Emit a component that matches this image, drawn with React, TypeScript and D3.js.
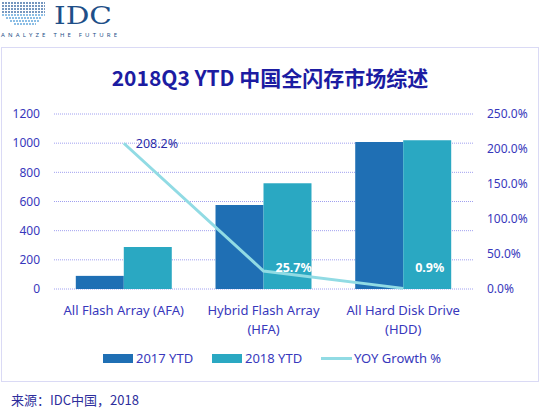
import { scaleBand, scaleLinear, line, format } from "d3";

// 数据
const categories = ["AFA", "HFA", "HDD"];
const categoryLines = [
  ["All Flash Array (AFA)"],
  ["Hybrid Flash Array", "(HFA)"],
  ["All Hard Disk Drive", "(HDD)"],
];
const series = ["2017 YTD", "2018 YTD"];
const values2017 = [90, 576, 1008];
const values2018 = [288, 725, 1020];
const yoyGrowth = [2.082, 0.257, 0.009];
const leftTicks = [0, 200, 400, 600, 800, 1000, 1200];
const rightTicks = [0, 0.5, 1, 1.5, 2, 2.5];

const W = 541,
  H = 411;
const plotLeft = 54,
  plotRight = 473,
  plotTop = 114,
  plotBottom = 289;

const c2017 = "#1f6fb4";
const c2018 = "#2aa8c2";
const cLine = "#91dbe4";
const cText = "#3838bc";
const cGrid = "#a0a0f0";
const font = "'Noto Sans', 'Noto Sans CJK SC', sans-serif";

const App = () => {
  const x0 = scaleBand(categories, [plotLeft, plotRight])
    .paddingInner(0.313)
    .paddingOuter(0.156);
  const x1 = scaleBand(series, [0, x0.bandwidth()]);
  const yL = scaleLinear([0, 1200], [plotBottom, plotTop]);
  const yR = scaleLinear([0, 2.5], [plotBottom, plotTop]);
  const pct = format(".1%");

  const cx = (i: number) => (x0(categories[i]) as number) + x0.bandwidth() / 2;
  const pts: [number, number][] = yoyGrowth.map((v, i) => [cx(i), yR(v)]);
  const path = line()(pts) as string;
  const allValues = [values2017, values2018];

  return (
    <div style={{ position: "absolute", left: 0, top: 0 }}>
      <svg width={W} height={H} style={{ display: "block", fontFamily: font }}>
        <rect width={W} height={H} fill="#fff" />
        {/* IDC logo */}
        <g>
          {[3, 6, 9, 12, 15, 18, 21, 24].map((yy, k) => (
            <line
              key={yy}
              x1={2 + (k > 4 ? (k - 4) * 4 : 0)}
              x2={45 - (k > 4 ? (k - 4) * 3 : 0)}
              y1={yy}
              y2={yy}
              stroke={k < 4 ? "#2b5f9c" : "#4d9ad8"}
              strokeWidth={1.6}
              strokeDasharray="2,1"
              opacity={0.85}
            />
          ))}
          <text
            x={54}
            y={24}
            fontFamily="'DejaVu Serif', 'Liberation Serif', serif"
            fontSize={25}
            fill="#1e4f88"
            textLength={58}
            lengthAdjust="spacingAndGlyphs"
          >
            IDC
          </text>
          <text
            x={1}
            y={37}
            fontSize={6}
            fill="#1e4f88"
            textLength={116}
            lengthAdjust="spacing"
          >
            ANALYZE THE FUTURE
          </text>
        </g>
        {/* 外框 */}
        <rect
          x={1.5}
          y={47.5}
          width={537}
          height={334}
          fill="none"
          stroke="#b4b4ea"
          strokeDasharray="1,1"
        />
        {/* 标题 */}
        <text
          x={270}
          y={86}
          textAnchor="middle"
          fontSize={21}
          fontWeight="bold"
          fill="#1c1ca2"
          fontFamily="'Noto Sans CJK SC', 'Noto Sans', sans-serif"
        >
          2018Q3 YTD 中国全闪存市场综述
        </text>
        {/* 网格线 */}
        {leftTicks.map((t) => (
          <line
            key={t}
            x1={plotLeft}
            x2={plotRight}
            y1={yL(t)}
            y2={yL(t)}
            stroke={cGrid}
            strokeDasharray="1,1"
          />
        ))}
        {/* 左轴 */}
        {leftTicks.map((t) => (
          <text
            key={t}
            x={40}
            y={yL(t)}
            dy="0.35em"
            textAnchor="end"
            fontSize={12}
            fill={cText}
          >
            {t}
          </text>
        ))}
        {/* 右轴 */}
        {rightTicks.map((t) => (
          <text
            key={t}
            x={487}
            y={yR(t)}
            dy="0.35em"
            fontSize={12}
            fill={cText}
          >
            {pct(t)}
          </text>
        ))}
        {/* 柱形 */}
        {categories.map((c, i) => (
          <g key={c} transform={`translate(${x0(c)},0)`}>
            {series.map((s, j) => (
              <rect
                key={s}
                x={x1(s)}
                y={yL(allValues[j][i])}
                width={x1.bandwidth()}
                height={yL(0) - yL(allValues[j][i])}
                fill={j === 0 ? c2017 : c2018}
              />
            ))}
          </g>
        ))}
        {/* 折线 */}
        <path d={path} fill="none" stroke={cLine} strokeWidth={3} />
        {pts.map(([px, py], i) => {
          const ly = Math.min(py, yR(0) - 21);
          const onBar = ly > yL(values2018[i]);
          return (
            <text
              key={i}
              x={px + 12}
              y={ly}
              dy="0.35em"
              fontSize={12.5}
              fontWeight={onBar ? "bold" : "normal"}
              fill={onBar ? "#fff" : "#2c2ca8"}
            >
              {pct(yoyGrowth[i])}
            </text>
          );
        })}
        {/* 分类标签 */}
        {categoryLines.map((ls, i) =>
          ls.map((l, k) => (
            <text
              key={`${i}-${k}`}
              x={cx(i)}
              y={310 + k * 19}
              dy="0.35em"
              textAnchor="middle"
              fontSize={13}
              fill={cText}
            >
              {l}
            </text>
          ))
        )}
        {/* 图例 */}
        <g fontSize={13} fill={cText}>
          <rect x={103} y={354} width={30} height={9} fill={c2017} />
          <text x={136} y={358.5} dy="0.35em">
            {series[0]}
          </text>
          <rect x={212} y={354} width={30} height={9} fill={c2018} />
          <text x={245} y={358.5} dy="0.35em">
            {series[1]}
          </text>
          <line x1={321} x2={352} y1={358.5} y2={358.5} stroke={cLine} strokeWidth={3} />
          <text x={354} y={358.5} dy="0.35em">
            YOY Growth %
          </text>
        </g>
        {/* 来源 */}
        <text
          x={11}
          y={405}
          fontSize={13}
          fill="#2e2e9c"
          fontFamily="'Noto Sans CJK SC', sans-serif"
        >
          来源：IDC中国，2018
        </text>
      </svg>
    </div>
  );
};

export default App;
